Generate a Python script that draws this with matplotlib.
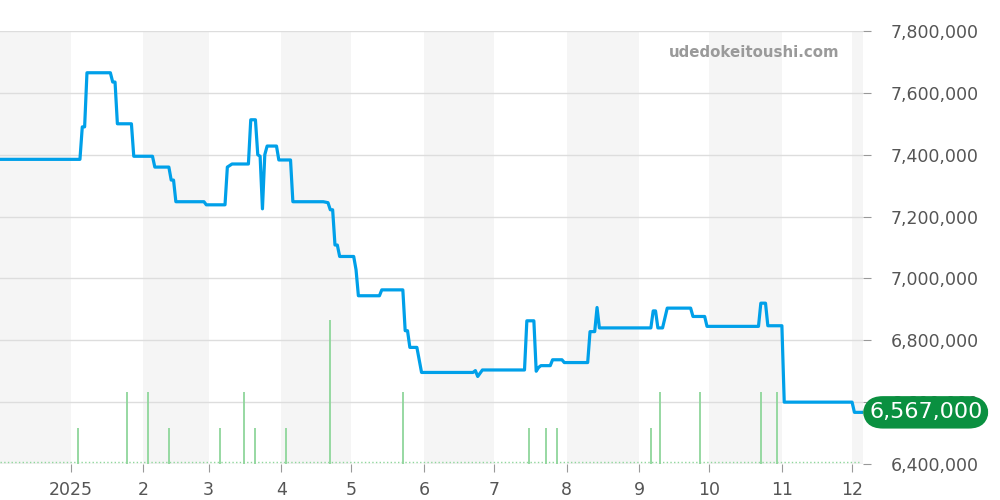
import pandas as pd
import numpy as np
import matplotlib.pyplot as plt
import matplotlib.dates as mdates
from matplotlib.transforms import blended_transform_factory

#price line (change points)
price_dates = [
    "2024-12-02", "2025-01-05", "2025-01-06", "2025-01-07", "2025-01-08", "2025-01-18",
    "2025-01-19", "2025-01-20", "2025-01-21", "2025-01-27", "2025-01-28", "2025-02-05",
    "2025-02-06", "2025-02-12", "2025-02-13", "2025-02-14", "2025-02-15", "2025-02-27",
    "2025-02-28", "2025-03-08", "2025-03-09", "2025-03-11", "2025-03-18", "2025-03-19",
    "2025-03-21", "2025-03-22", "2025-03-23", "2025-03-24", "2025-03-25", "2025-03-26",
    "2025-03-30", "2025-03-31", "2025-04-05", "2025-04-06", "2025-04-19", "2025-04-21",
    "2025-04-22", "2025-04-23", "2025-04-24", "2025-04-25", "2025-04-26", "2025-05-02",
    "2025-05-03", "2025-05-04", "2025-05-13", "2025-05-14", "2025-05-23", "2025-05-24",
    "2025-05-25", "2025-05-26", "2025-05-29", "2025-05-31", "2025-06-22", "2025-06-23",
    "2025-06-24", "2025-06-26", "2025-07-14", "2025-07-15", "2025-07-18", "2025-07-19",
    "2025-07-20", "2025-07-21", "2025-07-25", "2025-07-26", "2025-07-30", "2025-07-31",
    "2025-08-10", "2025-08-11", "2025-08-13", "2025-08-14", "2025-08-15", "2025-09-06",
    "2025-09-07", "2025-09-08", "2025-09-09", "2025-09-11", "2025-09-13", "2025-09-23",
    "2025-09-24", "2025-09-29", "2025-09-30", "2025-10-22", "2025-10-23", "2025-10-25",
    "2025-10-26", "2025-11-01", "2025-11-02", "2025-12-01", "2025-12-02", "2025-12-05",
]
prices = [
    7385000, 7385000, 7490000, 7490000, 7665000, 7665000,
    7635000, 7635000, 7500000, 7500000, 7395000, 7395000,
    7360000, 7360000, 7318000, 7318000, 7248000, 7248000,
    7238000, 7238000, 7360000, 7370000, 7370000, 7513000,
    7513000, 7400000, 7395000, 7225000, 7400000, 7428000,
    7428000, 7383000, 7383000, 7248000, 7248000, 7245000,
    7222000, 7222000, 7108000, 7108000, 7071000, 7071000,
    7028000, 6944000, 6944000, 6963000, 6963000, 6831000,
    6831000, 6777000, 6777000, 6696000, 6696000, 6702000,
    6683000, 6704000, 6704000, 6863000, 6863000, 6700000,
    6712000, 6718000, 6718000, 6737000, 6737000, 6728000,
    6728000, 6828000, 6828000, 6906000, 6840000, 6840000,
    6895000, 6895000, 6840000, 6840000, 6904000, 6904000,
    6877000, 6877000, 6845000, 6845000, 6920000, 6920000,
    6847000, 6847000, 6600000, 6600000, 6567000, 6567000,
]

#volume
volume_dates = [
    "2025-01-04", "2025-01-25", "2025-02-03", "2025-02-12", "2025-03-06", "2025-03-16",
    "2025-03-21", "2025-04-03", "2025-04-22", "2025-05-23", "2025-07-16", "2025-07-23",
    "2025-07-28", "2025-09-06", "2025-09-10", "2025-09-27", "2025-10-23", "2025-10-30",
]
volumes = [1, 2, 2, 1, 1, 2, 1, 1, 4, 2, 1, 1, 1, 1, 2, 2, 2, 2]

month_ticks = ["2025-01-01", "2025-02-01", "2025-03-01", "2025-04-01", "2025-05-01", "2025-06-01",
               "2025-07-01", "2025-08-01", "2025-09-01", "2025-10-01", "2025-11-01", "2025-12-01"]
month_labels = ["2025", "2", "3", "4", "5", "6", "7", "8", "9", "10", "11", "12"]
price_ticks = [6400000, 6600000, 6800000, 7000000, 7200000, 7400000, 7600000, 7800000]

data = pd.DataFrame({"date": pd.to_datetime(price_dates), "price": prices})
vol = pd.DataFrame({"date": pd.to_datetime(volume_dates), "volume": volumes})

fig = plt.figure(figsize=(10, 5), dpi=100)
ax = fig.add_axes([0.0, 0.072, 0.863, 0.866])

#shaded months
shaded = [("2024-11-25", "2025-01-01"), ("2025-02-01", "2025-03-01"), ("2025-04-01", "2025-05-01"),
          ("2025-06-01", "2025-07-01"), ("2025-08-01", "2025-09-01"), ("2025-10-01", "2025-11-01"),
          ("2025-12-01", "2025-12-31")]
for s, e in shaded:
    ax.axvspan(pd.Timestamp(s), pd.Timestamp(e), color="#f5f5f5", zorder=0, lw=0)

ax.set_ylim(6400000, 7800000)
ax.set_xlim(pd.Timestamp("2024-12-01 20:00"), pd.Timestamp("2025-12-05 16:00"))
ax.grid(axis="y", color="#dddddd", lw=1)
ax.set_axisbelow(True)

ax.set_xticks(pd.to_datetime(month_ticks))
ax.set_xticklabels(month_labels)
for sp in ax.spines.values():
    sp.set_visible(False)

#volume on twin axis
ax2 = ax.twinx()
ax2.set_ylim(0, 12)
ax2.vlines(vol["date"], 0, vol["volume"], color="#8fd69b", lw=1.3)
ax2.hlines(0.05, data["date"].iloc[0], data["date"].iloc[-1], color="#8fd69b", lw=1, linestyles=":")
ax2.set_yticks([])
for sp in ax2.spines.values():
    sp.set_visible(False)
ax2.set_xlim(ax.get_xlim())

#price line on top
ax3 = ax.twinx()
ax3.set_ylim(ax.get_ylim())
ax3.plot(data["date"], data["price"], color="#00a0e9", lw=2.3, solid_joinstyle="round")
ax3.set_yticks([])
for sp in ax3.spines.values():
    sp.set_visible(False)
ax3.set_xlim(ax.get_xlim())

#price ticks on the right (after twinx, which moves them left)
ax.yaxis.tick_right()
ax.set_yticks(price_ticks)
ax.set_yticklabels([f"{v:,}" for v in price_ticks])
ax.tick_params(axis="both", colors="#999999", labelcolor="#555555", labelsize=12.5, length=6)
ax.tick_params(axis="y", pad=14)
ax.tick_params(axis="x", pad=6)

#watermark
ax3.text(0.973, 0.951, "udedokeitoushi.com", transform=ax3.transAxes, ha="right", va="center",
         fontsize=10.8, fontweight="bold", color="#9a9a9a")

#last price label
last = data["price"].iloc[-1]
trans = blended_transform_factory(ax3.transAxes, ax3.transData)
ax3.text(1.007, last, f"{last:,}", transform=trans, ha="left", va="center", fontsize=16,
         color="white", clip_on=False, zorder=10,
         bbox=dict(boxstyle="round,pad=0.28,rounding_size=0.9", fc="#0a9040", ec="none"))

plt.savefig("out.png")
